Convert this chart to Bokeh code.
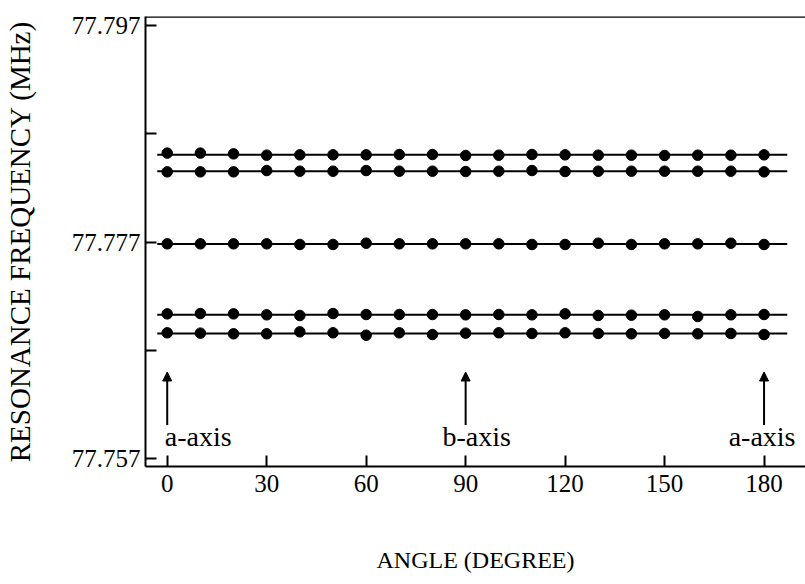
import numpy as np
from bokeh.plotting import figure
from bokeh.models import (ColumnDataSource, FixedTicker, PrintfTickFormatter,
                          Arrow, NormalHead, Span, Range1d)
from bokeh.core.properties import value
from bokeh.embed import file_html
from bokeh.resources import INLINE

# ---------------- data ----------------
angles = [0, 10, 20, 30, 40, 50, 60, 70, 80, 90, 100, 110, 120, 130, 140, 150, 160, 170, 180]

line1 = [77.78522, 77.78522, 77.78515, 77.78503, 77.78506, 77.78506, 77.78506, 77.78509, 77.78509, 77.78500,
         77.78503, 77.78509, 77.78506, 77.78503, 77.78503, 77.78500, 77.78503, 77.78503, 77.78506]
line2 = [77.78349, 77.78349, 77.78349, 77.78361, 77.78355, 77.78355, 77.78361, 77.78355, 77.78355, 77.78352,
         77.78355, 77.78361, 77.78352, 77.78355, 77.78355, 77.78355, 77.78355, 77.78355, 77.78349]
line3 = [77.77684, 77.77684, 77.77684, 77.77684, 77.77678, 77.77678, 77.77690, 77.77684, 77.77684, 77.77684,
         77.77684, 77.77678, 77.77678, 77.77690, 77.77678, 77.77684, 77.77684, 77.77690, 77.77678]
line4 = [77.77037, 77.77040, 77.77037, 77.77028, 77.77022, 77.77040, 77.77031, 77.77031, 77.77031, 77.77028,
         77.77031, 77.77028, 77.77037, 77.77022, 77.77025, 77.77028, 77.77013, 77.77028, 77.77031]
line5 = [77.76862, 77.76859, 77.76853, 77.76853, 77.76871, 77.76862, 77.76840, 77.76862, 77.76846, 77.76859,
         77.76862, 77.76856, 77.76862, 77.76856, 77.76853, 77.76856, 77.76853, 77.76856, 77.76846]
series = [line1, line2, line3, line4, line5]

fit_x = [-3, 187]                      # extent of the fitted lines (degrees)

x_ticks = [0, 30, 60, 90, 120, 150, 180]
y_major = [77.757, 77.777, 77.797]
y_minor = [77.767, 77.787]

arrow_x = [0, 90, 180]
arrow_y_start = [77.7601, 77.7601, 77.7601]
arrow_y_end = [77.7650, 77.7650, 77.7650]
label_text = ["a-axis", "b-axis", "a-axis"]
label_y = [77.7590, 77.7590, 77.7590]

FONT = "Liberation Serif"

# ---------------- figure ----------------
p = figure(width=805, height=584,
           x_range=Range1d(-6.55, 192.5), y_range=Range1d(77.75627, 77.79784),
           output_backend="svg", toolbar_location=None,
           min_border_left=145, min_border_right=0,
           min_border_top=16, min_border_bottom=118)
p.background_fill_color = "white"
p.border_fill_color = "white"
p.outline_line_color = None
p.xgrid.visible = False
p.ygrid.visible = False

# top border line
p.add_layout(Span(location=p.y_range.end, dimension="width",
                  line_color="black", line_width=2.5))

# x axis
p.xaxis.ticker = FixedTicker(ticks=x_ticks)
p.xaxis.major_tick_in = 11
p.xaxis.major_tick_out = 0
p.xaxis.minor_tick_in = 0
p.xaxis.minor_tick_out = 0
p.xaxis.axis_line_width = 2
p.xaxis.major_tick_line_width = 2
p.xaxis.major_label_text_font = FONT
p.xaxis.major_label_text_font_size = "25px"
p.xaxis.major_label_text_color = "black"
p.xaxis.major_label_standoff = 8
p.xaxis.axis_label = "ANGLE (DEGREE)"
p.xaxis.axis_label_text_font = FONT
p.xaxis.axis_label_text_font_size = "24px"
p.xaxis.axis_label_text_font_style = "normal"
p.xaxis.axis_label_text_color = "black"
p.xaxis.axis_label_standoff = 52

# y axis
p.yaxis.ticker = FixedTicker(ticks=y_major, minor_ticks=y_minor)
p.yaxis.formatter = PrintfTickFormatter(format="%.3f")
p.yaxis.major_tick_in = 11
p.yaxis.major_tick_out = 0
p.yaxis.minor_tick_in = 11
p.yaxis.minor_tick_out = 0
p.yaxis.axis_line_width = 2
p.yaxis.major_tick_line_width = 2
p.yaxis.minor_tick_line_width = 2
p.yaxis.major_label_text_font = FONT
p.yaxis.major_label_text_font_size = "25px"
p.yaxis.major_label_text_color = "black"
p.yaxis.major_label_standoff = 5
p.yaxis.axis_label = "RESONANCE FREQUENCY (MHz)"
p.yaxis.axis_label_text_font = FONT
p.yaxis.axis_label_text_font_size = "29px"
p.yaxis.axis_label_text_font_style = "normal"
p.yaxis.axis_label_text_color = "black"
p.yaxis.axis_label_standoff = 33

# data: fitted lines + points
for s in series:
    m = float(np.mean(s))
    p.line(fit_x, [m, m], line_color="black", line_width=2)
    p.scatter(angles, s, size=10.5, fill_color="black", line_color="black")

# arrows and labels
for xa, ys, ye in zip(arrow_x, arrow_y_start, arrow_y_end):
    p.add_layout(Arrow(end=NormalHead(size=9, fill_color="black", line_color="black"),
                       x_start=xa, y_start=ys, x_end=xa, y_end=ye,
                       line_color="black", line_width=2))

lab_src = ColumnDataSource(dict(x=arrow_x, y=label_y, text=label_text, dx=[31, 11, -2]))
p.text(x="x", y="y", text="text", x_offset="dx", source=lab_src,
       text_font=value(FONT), text_font_size="28px", text_color="black",
       text_align="center", text_baseline="middle")

open("out.html", "w").write(file_html(p, INLINE))
